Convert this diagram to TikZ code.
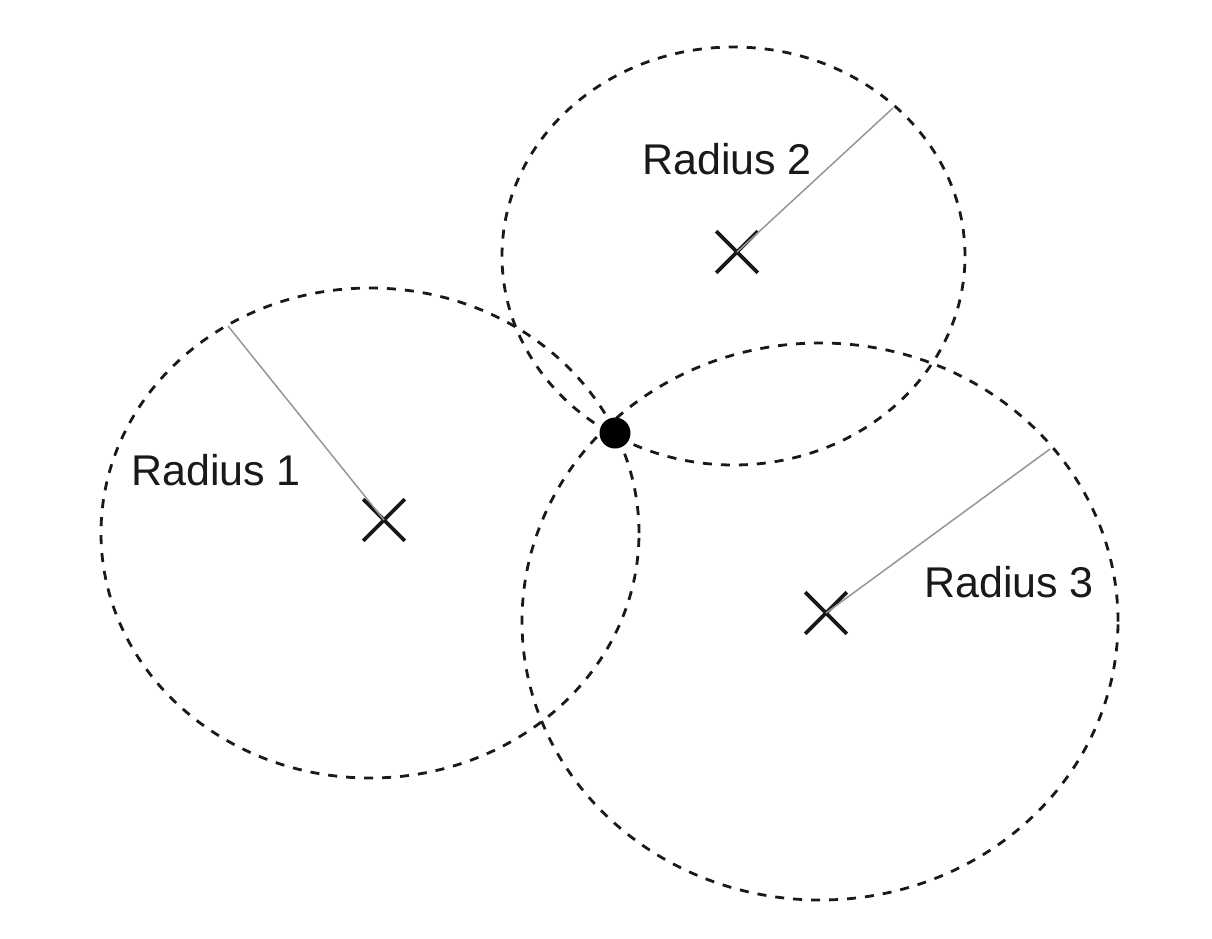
\documentclass[tikz,border=0pt]{standalone}
\usepackage{fontspec}
\setmainfont{Liberation Sans}
\usetikzlibrary{shapes.misc}
\definecolor{ink}{RGB}{25,25,25}
\definecolor{radgray}{RGB}{150,150,150}
\tikzset{
  rangering/.style={draw=ink, line width=2.8pt, dash pattern=on 9pt off 9pt},
  xmark/.style={cross out, draw=ink, line width=3.6pt, minimum size=38pt, inner sep=0pt},
  radline/.style={draw=radgray, line width=1.5pt},
  lbl/.style={font=\fontsize{43}{48}\selectfont, text=ink, inner sep=0pt, anchor=base west},
  target/.style={circle, fill=black, minimum size=31pt, inner sep=0pt}
}
\begin{document}
\begin{tikzpicture}[x=1pt,y=-1pt]
\useasboundingbox (0,0) rectangle (1212,938);
\fill[white] (0,0) rectangle (1212,938);
% range ellipses
\draw[rangering] (370,533) ellipse [x radius=269pt, y radius=245pt];
\draw[rangering] (733.5,256) ellipse [x radius=231.5pt, y radius=209pt];
\draw[rangering] (820,621.5) ellipse [x radius=298pt, y radius=278.5pt];
% centres
\node[xmark] (x1) at (384,520) {};
\node[xmark] (x2) at (737,252) {};
\node[xmark] (x3) at (826,613) {};
% radius end points on the ellipses
\coordinate (e1) at (228,326);
\coordinate (e2) at (893,108);
\coordinate (e3) at (1050,449);
\draw[radline] (x1.center) -- (e1);
\draw[radline] (x2.center) -- (e2);
\draw[radline] (x3.center) -- (e3);
% labels
\node[lbl] (l1) at (131,485) {Radius 1};
\node[lbl] (l2) at (642,174) {Radius 2};
\node[lbl] (l3) at (924,597) {Radius 3};
% intersection point
\node[target] (p) at (615,433) {};
\end{tikzpicture}
\end{document}
